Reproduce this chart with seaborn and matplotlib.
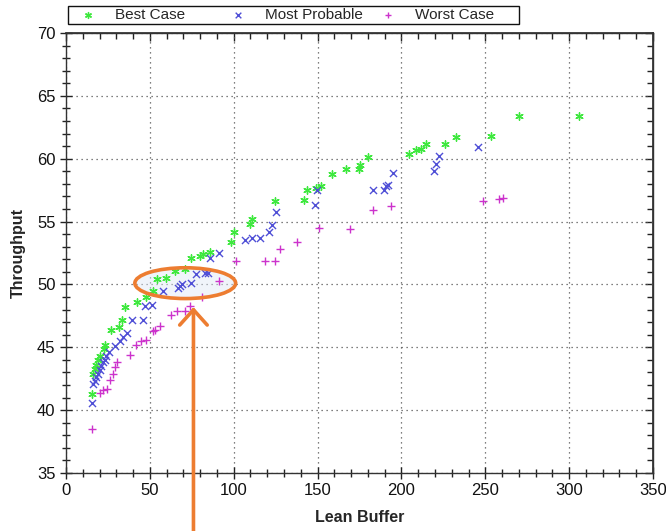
import matplotlib
matplotlib.use("Agg")
import matplotlib.pyplot as plt
from matplotlib.patches import Ellipse, Rectangle
from matplotlib.ticker import MultipleLocator
import seaborn as sns
import pandas as pd

# Lean buffer size vs. throughput for three scenarios
best_x = [15.6, 16.3, 17.3, 18.0, 19.3, 20.5, 22.6, 23.2, 26.6, 31.5, 33.5, 35.1,
          42.4, 47.6, 51.6, 54.0, 59.7, 64.9, 70.8, 74.8, 79.8, 81.7, 86.1, 98.6,
          100.2, 109.5, 110.9, 124.6, 141.7, 143.6, 149.2, 152.2, 158.7, 166.7,
          174.6, 175.4, 179.9, 204.4, 208.7, 211.7, 214.7, 226.2, 232.5, 253.2,
          270.2, 306.0]
best_y = [41.3, 42.9, 43.3, 43.6, 44.0, 44.3, 44.9, 45.2, 46.4, 46.6, 47.2, 48.2,
          48.6, 49.0, 49.5, 50.4, 50.5, 51.1, 51.2, 52.1, 52.3, 52.4, 52.6, 53.4,
          54.2, 54.8, 55.2, 56.6, 56.7, 57.5, 57.7, 57.8, 58.8, 59.2,
          59.2, 59.5, 60.1, 60.4, 60.7, 60.8, 61.2, 61.2, 61.7, 61.8,
          63.4, 63.4]

probable_x = [15.3, 16.3, 17.0, 18.0, 19.0, 20.0, 21.0, 22.0, 23.0, 24.0, 25.5,
              29.0, 32.0, 34.0, 36.5, 39.5, 46.0, 47.0, 51.3, 57.7, 66.9, 67.9,
              68.9, 74.8, 77.8, 82.7, 84.7, 85.9, 91.0, 107.0, 110.9, 115.9,
              120.8, 122.8, 125.4, 148.6, 149.4, 183.3, 189.9, 190.8, 191.9,
              195.2, 219.2, 220.6, 222.2, 245.4]
probable_y = [40.6, 42.1, 42.3, 42.6, 42.9, 43.2, 43.5, 43.8, 44.0, 44.3, 44.6,
              45.1, 45.5, 45.8, 46.1, 47.2, 47.2, 48.3, 48.4, 49.5, 49.7, 49.9,
              50.0, 50.1, 50.8, 50.9, 50.9, 52.1, 52.5, 53.5, 53.7, 53.7,
              54.2, 54.7, 55.8, 56.3, 57.5, 57.5, 57.5, 57.8, 57.9,
              58.9, 59.0, 59.6, 60.2, 60.9]

worst_x = [15.7, 20.2, 22.2, 24.2, 26.2, 27.8, 29.2, 30.2, 38.1, 41.7, 45.0, 47.6,
           52.0, 53.0, 56.0, 62.9, 65.9, 70.8, 73.8, 80.8, 91.0, 101.2, 118.5,
           124.8, 127.8, 137.7, 151.0, 169.5, 182.8, 193.8, 248.4, 258.3, 260.3]
worst_y = [38.5, 41.4, 41.6, 41.7, 42.4, 42.9, 43.4, 43.8, 44.4, 45.2, 45.5, 45.6,
           46.3, 46.4, 46.7, 47.6, 47.9, 47.9, 48.3, 49.0, 50.3, 51.9, 51.9,
           51.9, 52.8, 53.4, 54.5, 54.4, 55.9, 56.2, 56.6, 56.8, 56.9]

series_names = ["Best Case", "Most Probable", "Worst Case"]
x_ticks = [0, 50, 100, 150, 200, 250, 300, 350]
y_ticks = [35, 40, 45, 50, 55, 60, 65, 70]

# highlighted cluster and the pointer to it
highlight_center = (71.1, 50.1)
highlight_size = (60.1, 2.45)
pointer_x = 76.0
pointer_tip_y = 48.2

sns.set_theme(style="white")
plt.rcParams["font.family"] = ["Liberation Sans", "DejaVu Sans"]

fig = plt.figure(figsize=(6.66, 5.31), dpi=100)
ax = fig.add_axes([0.0991, 0.1092, 0.8814, 0.8287])

frames = [
    pd.DataFrame({"buffer": best_x, "throughput": best_y}),
    pd.DataFrame({"buffer": probable_x, "throughput": probable_y}),
    pd.DataFrame({"buffer": worst_x, "throughput": worst_y}),
]
colors = ["#3ee83e", "#4f4fd6", "#cc33cc"]
markers = [(6, 2, 0), "x", "+"]
sizes = [28, 26, 30]

for df, name, c, m, s in zip(frames, series_names, colors, markers, sizes):
    sns.scatterplot(data=df, x="buffer", y="throughput", ax=ax, color=c,
                    marker=m, s=s, linewidth=1.0, label=name, zorder=3)

ax.set_xlim(x_ticks[0], x_ticks[-1])
ax.set_ylim(y_ticks[0], y_ticks[-1])
ax.set_xticks(x_ticks)
ax.set_yticks(y_ticks)
ax.xaxis.set_minor_locator(MultipleLocator(10))
ax.yaxis.set_minor_locator(MultipleLocator(1))

ax.grid(True, which="major", linestyle=(0, (1, 3)), color="#555555", linewidth=0.9)
ax.set_axisbelow(True)

for sp in ax.spines.values():
    sp.set_visible(True)
    sp.set_color("#333333")
    sp.set_linewidth(1.0)

# bottom/left ticks cross the spine
ax.tick_params(axis="both", which="major", direction="inout", length=9, width=1,
               color="#222222", labelsize=12, labelcolor="#111111", pad=3,
               bottom=True, left=True, top=False, right=False)
ax.tick_params(axis="both", which="minor", direction="inout", length=6, width=1,
               color="#222222", bottom=True, left=True, top=False, right=False)

# top/right ticks point inward only
top = ax.secondary_xaxis("top")
top.set_xticks(x_ticks)
top.xaxis.set_minor_locator(MultipleLocator(10))
top.tick_params(which="major", direction="in", length=6, width=1, color="#222222",
                labeltop=False)
top.tick_params(which="minor", direction="in", length=4, width=1, color="#222222")
top.spines["top"].set_color("#333333")
right = ax.secondary_yaxis("right")
right.set_yticks(y_ticks)
right.yaxis.set_minor_locator(MultipleLocator(1))
right.tick_params(which="major", direction="in", length=6, width=1, color="#222222",
                  labelright=False)
right.tick_params(which="minor", direction="in", length=4, width=1, color="#222222")
right.spines["right"].set_color("#333333")

ax.set_xlabel("Lean Buffer", fontsize=11.5, fontweight="bold", labelpad=8)
ax.set_ylabel("Throughput", fontsize=11.5, fontweight="bold", labelpad=8)

# highlight ellipse with a faint tint inside
ax.add_patch(Ellipse(highlight_center, *highlight_size, facecolor="#dfe8f6",
                     edgecolor="none", alpha=0.45, zorder=2))
ax.add_patch(Ellipse(highlight_center, *highlight_size, facecolor="none",
                     edgecolor="#ED7D31", linewidth=2.6, zorder=4))
ax.annotate("", xy=(pointer_x, pointer_tip_y), xycoords="data",
            xytext=(pointer_x, 0.0), textcoords=("data", "figure fraction"),
            arrowprops=dict(arrowstyle="->,head_length=0.5,head_width=0.45",
                            color="#ED7D31", lw=2.6, mutation_scale=22,
                            shrinkA=0, shrinkB=0),
            annotation_clip=False, zorder=5)

# legend strip above the plot: equally spaced entries inside one frame
handles, labels = ax.get_legend_handles_labels()
ax.legend_.remove()
legend_box = (0.102, 0.955, 0.677, 0.034)
fig.patches.append(Rectangle(legend_box[:2], legend_box[2], legend_box[3],
                             transform=fig.transFigure, facecolor="white",
                             edgecolor="#111111", linewidth=1.0, zorder=1))
entry_x = [0.1165, 0.3415, 0.5665]
for h, lab, ex in zip(handles, labels, entry_x):
    fig.legend([h], [lab], loc="center left",
               bbox_to_anchor=(ex, legend_box[1] + legend_box[3] / 2),
               fontsize=11, frameon=False, borderpad=0, borderaxespad=0,
               handlelength=1.4, handletextpad=1.05, markerscale=0.8)

fig.savefig("out.png", dpi=100)
